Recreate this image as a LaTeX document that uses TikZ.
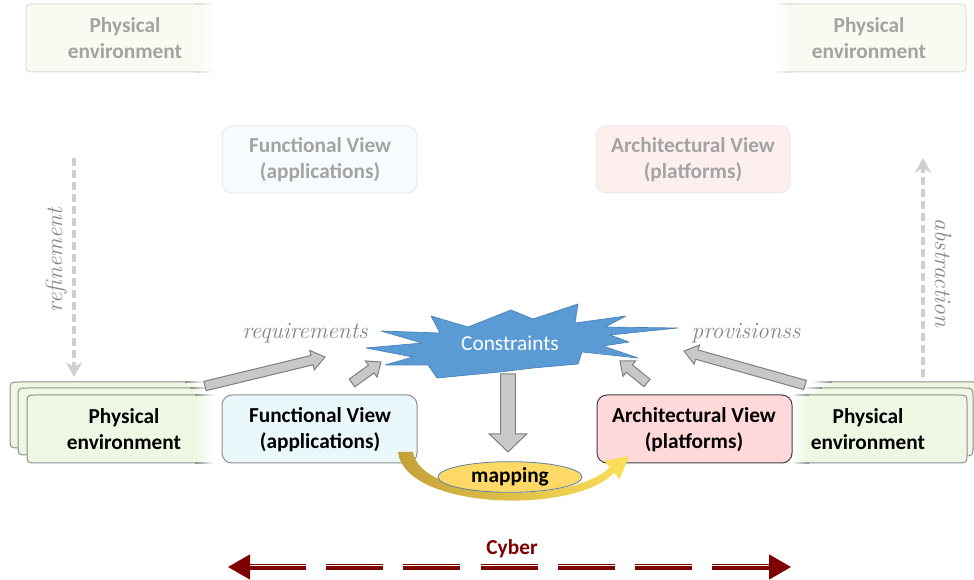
\documentclass[tikz,border=0pt]{standalone}
\usepackage{fontspec}
\newfontfamily\calfont{Carlito}
\usetikzlibrary{calc,arrows.meta,shapes.geometric}
\definecolor{greenF}{HTML}{EDF7E3}
\definecolor{greenG}{HTML}{F7FBF1}
\definecolor{cyanF}{HTML}{EAF8FC}
\definecolor{cyanG}{HTML}{F6FCFE}
\definecolor{pinkF}{HTML}{FFD9DA}
\definecolor{pinkG}{HTML}{FCEFEE}
\definecolor{lineG}{HTML}{DCDCDC}
\definecolor{lineM}{HTML}{8F8F8F}
\definecolor{lineD}{HTML}{404040}
\definecolor{ghostT}{HTML}{A3A3A3}
\definecolor{starB}{HTML}{5B9BD5}
\definecolor{starD}{HTML}{4A80B8}
\definecolor{arrG}{HTML}{C8C8C8}
\definecolor{arrD}{HTML}{7F7F7F}
\definecolor{goldD}{HTML}{C4A038}
\definecolor{goldL}{HTML}{FCE15A}
\definecolor{mapY}{HTML}{FFD966}
\definecolor{mapB}{HTML}{5A7FA6}
\definecolor{cyberR}{HTML}{7F0000}
\definecolor{dashG}{HTML}{CFCFCF}
\definecolor{itG}{HTML}{858585}

% left-rounded box whose right end fades to white
\newcommand{\fadeL}[7]{%
  \fill[#5] (#7,#2) -- ({#1+10},#2) .. controls (#1,#2) .. (#1,{#2+10}) -- (#1,{#4-10}) .. controls (#1,#4) .. ({#1+10},#4) -- (#7,#4) -- cycle;
  \shade[left color=#5, right color=white] (#7,#2) rectangle (#3,#4);
  \draw[#6, line width=0.75pt] (#7,#2) -- ({#1+10},#2) .. controls (#1,#2) .. (#1,{#2+10}) -- (#1,{#4-10}) .. controls (#1,#4) .. ({#1+10},#4) -- (#7,#4);
  \shade[left color=#6, right color=white] (#7,{#2-0.5}) rectangle (#3,{#2+0.5});
  \shade[left color=#6, right color=white] (#7,{#4-0.5}) rectangle (#3,{#4+0.5});
}
% right-rounded box whose left end fades to white
\newcommand{\fadeR}[7]{%
  \fill[#5] (#7,#2) -- ({#3-10},#2) .. controls (#3,#2) .. (#3,{#2+10}) -- (#3,{#4-10}) .. controls (#3,#4) .. ({#3-10},#4) -- (#7,#4) -- cycle;
  \shade[left color=white, right color=#5] (#1,#2) rectangle (#7,#4);
  \draw[#6, line width=0.75pt] (#7,#2) -- ({#3-10},#2) .. controls (#3,#2) .. (#3,{#2+10}) -- (#3,{#4-10}) .. controls (#3,#4) .. ({#3-10},#4) -- (#7,#4);
  \shade[left color=white, right color=#6] (#1,{#2-0.5}) rectangle (#7,{#2+0.5});
  \shade[left color=white, right color=#6] (#1,{#4-0.5}) rectangle (#7,{#4+0.5});
}
% block arrow: from, to, half shaft, half head, head length
\newcommand{\blockarr}[5]{%
  \coordinate (ba-h) at ($(#2)!#5!(#1)$);
  \filldraw[blockarrow] ($(#1)!#3!90:(#2)$) -- ($(ba-h)!#3!-90:(#1)$) -- ($(ba-h)!#4!-90:(#1)$) -- (#2) -- ($(ba-h)!#4!90:(#1)$) -- ($(ba-h)!#3!90:(#1)$) -- ($(#1)!#3!-90:(#2)$) -- cycle;
}

\begin{document}
\begin{tikzpicture}[x=0.75pt,y=-0.75pt,
  boxtext/.style={font=\calfont\bfseries\fontsize{16}{19.5}\selectfont, align=center, inner sep=0pt},
  ghosttext/.style={boxtext, text=ghostT},
  itlabel/.style={font=\itshape\fontsize{17.5}{20}\selectfont, text=itG, inner sep=0pt},
  blockarrow/.style={fill=arrG, draw=arrD, line width=0.75pt, line join=miter},
  dasharrow/.style={draw=dashG, line width=3pt, dash pattern=on 6pt off 3pt, -{Stealth[length=11pt,width=12pt,inset=3.5pt]}},
  cyberline/.style={draw=cyberR, line width=4.6pt, dash pattern=on 42.75pt off 15.125pt},
  cyberstripe/.style={draw=white, line width=0.8pt, dash pattern=on 42.75pt off 15.125pt},
  mapnode/.style={ellipse, fill=mapY, draw=mapB, line width=0.6pt, minimum width=108pt, minimum height=23pt, inner sep=0pt, font=\calfont\bfseries\fontsize{16}{19.5}\selectfont}
]
\useasboundingbox (0,0) rectangle (974,580);

% ---- ghost (faded) boxes at the top
\fadeL{26}{4}{215}{72}{greenG}{lineG}{195}
\node[ghosttext] (physTL) at (125,38) {Physical\\environment};
\fadeR{773}{4}{966}{72}{greenG}{lineG}{793}
\node[ghosttext] (physTR) at (869,38) {Physical\\environment};

\draw[fill=cyanG, draw=lineG!60, line width=0.75pt, rounded corners=7.5pt] (222,126) rectangle (417,193);
\node[ghosttext] (funcG) at (320,160) {Functional View\\(applications)};
\draw[fill=pinkG, draw=lineG!60, line width=0.75pt, rounded corners=7.5pt] (596,126) rectangle (790,193);
\node[ghosttext] (archG) at (693,160) {Architectural View\\(platforms)};

% ---- refinement / abstraction
\coordinate (refS) at (74,158);
\coordinate (refE) at (74,377);
\draw[dasharrow] (refS) -- (refE);
\node[itlabel, rotate=90, anchor=base] (refl) at (62,260) {refinement};
\coordinate (absS) at (923,377);
\coordinate (absE) at (923,158);
\draw[dasharrow] (absS) -- (absE);
\node[itlabel, rotate=-90, anchor=base] (absl) at (935,273) {abstraction};

% ---- physical environment stacks
\fadeL{10}{382}{205}{448}{greenF}{lineM}{185}
\fadeL{18}{388}{210}{455}{greenF}{lineM}{190}
\fadeL{27}{395}{214}{463}{greenF}{lineM}{195}
\node[boxtext] (physL) at (124,429) {Physical\\environment};

\fadeR{812}{382}{984}{449}{greenF}{lineM}{832}
\fadeR{803}{388}{973}{456}{greenF}{lineM}{822}
\fadeR{791}{395}{967}{463}{greenF}{lineM}{809}
\node[boxtext] (physR) at (868,429) {Physical\\environment};

% ---- functional / architectural views
\draw[fill=cyanF, draw=lineM, line width=0.75pt, rounded corners=7.5pt] (222,395) rectangle (417,463);
\node[boxtext] (func) at (320,430) {Functional View\\(applications)};
\draw[fill=pinkF, draw=lineD, line width=0.75pt, rounded corners=7.5pt] (597,395) rectangle (792,463);
\node[boxtext] (arch) at (694,430) {Architectural View\\(platforms)};

% ---- constraints star
\filldraw[fill=starB, draw=starD, line width=0.5pt, line join=round]
  (366,348) -- (422,343) -- (381,331) -- (440,333) -- (431,316) -- (468,327) -- (511,310)
  -- (533,319) -- (578,304) -- (575,323) -- (626,316) -- (605,327) -- (678,328) -- (610,335)
  -- (629,342) -- (603,346) -- (638,358) -- (582,352) -- (578,364) -- (533,368) -- (500,372)
  -- (437,378) -- (428,365) -- (385,365) -- (413,357) -- cycle;
\node[font=\calfont\fontsize{16}{19}\selectfont, text=white, inner sep=0pt] (constraints) at (510,343) {Constraints};

% ---- labels
\node[itlabel, anchor=base] (req) at (305,339) {requirements};
\node[itlabel, anchor=base] (prov) at (746,339) {provisionss};

% ---- grey block arrows
\coordinate (rqS) at (205,386); \coordinate (rqE) at (325,357);
\coordinate (sfS) at (352,383); \coordinate (sfE) at (381,362);
\coordinate (saS) at (647,383); \coordinate (saE) at (620,361);
\coordinate (pvS) at (805,385); \coordinate (pvE) at (684,351);
\coordinate (dnS) at (508,374); \coordinate (dnE) at (508,452);
\blockarr{rqS}{rqE}{3.6pt}{7.5pt}{10pt}
\blockarr{sfS}{sfE}{3.6pt}{7.5pt}{9pt}
\blockarr{saS}{saE}{3.6pt}{7.5pt}{9pt}
\blockarr{pvS}{pvE}{3.6pt}{7.5pt}{10pt}
\blockarr{dnS}{dnE}{5.6pt}{14pt}{13.5pt}

% ---- curved mapping arrow
\shade[left color=goldD, right color=goldL]
  (398,452) .. controls (405,510) and (575,515) .. (614.2,472.7)
  -- (619.7,479.2) -- (629,456) -- (604.3,460.8) -- (609.8,467.3)
  .. controls (570,506) and (420,500) .. (413,452) -- cycle;
\node[mapnode] (mapping) at (510,477) {mapping};

% ---- cyber arrow
\node[font=\calfont\bfseries\fontsize{16}{19.5}\selectfont, text=cyberR, inner sep=0pt] (cyber) at (512,549) {Cyber};
\coordinate (cyL) at (228,567);
\coordinate (cyR) at (791,567);
\draw[cyberline, shorten <=15.75pt, shorten >=15.75pt] (cyL) -- (cyR);
\draw[cyberstripe, shorten <=15.75pt, shorten >=15.75pt] ([yshift=1.1pt]cyL) -- ([yshift=1.1pt]cyR);
\fill[cyberR] (cyL) -- ([xshift=16.5pt,yshift=9.5pt]cyL) -- ([xshift=16.5pt,yshift=-9.5pt]cyL) -- cycle;
\fill[cyberR] (cyR) -- ([xshift=-16.5pt,yshift=9.5pt]cyR) -- ([xshift=-16.5pt,yshift=-9.5pt]cyR) -- cycle;
\end{tikzpicture}
\end{document}
